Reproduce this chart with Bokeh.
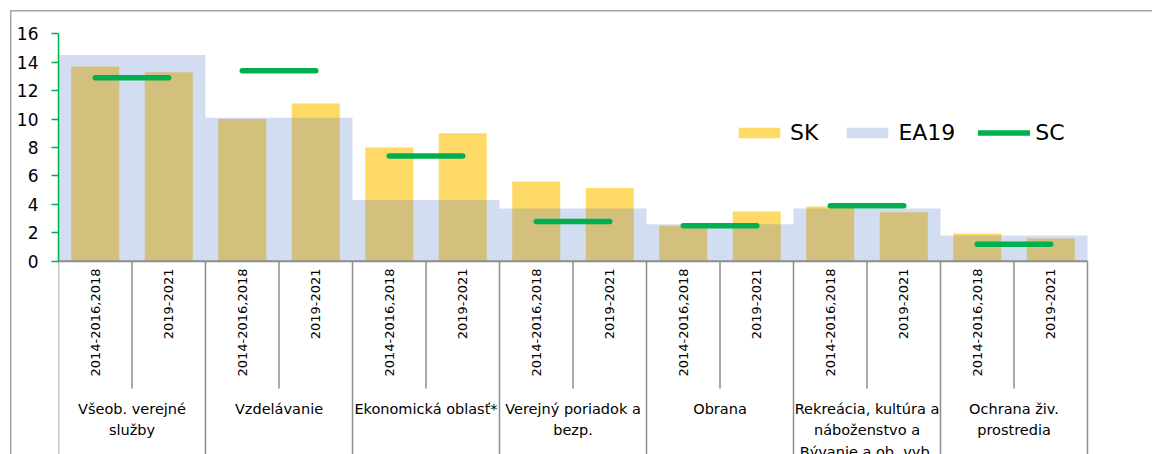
import math
from bokeh.plotting import figure
from bokeh.models import (Range1d, FixedTicker, Legend, LegendItem, ColumnDataSource)
from bokeh.core.properties import value
from bokeh.embed import file_html
from bokeh.resources import INLINE

# Expenditure by function, % of total: Slovakia (SK) vs euro area (EA19), with SC marks
groups = ["Všeob. verejné\nslužby", "Vzdelávanie", "Ekonomická oblasť*",
          "Verejný poriadok a\nbezp.", "Obrana",
          "Rekreácia, kultúra a\nnáboženstvo a\nBývanie a ob. vyb.",
          "Ochrana živ.\nprostredia"]
periods = ["2014-2016,2018", "2019-2021"]
sk_first = [13.7, 10.0, 8.0, 5.6, 2.5, 3.85, 1.95]
sk_second = [13.3, 11.1, 9.0, 5.15, 3.5, 3.45, 1.6]
ea19 = [14.5, 10.1, 4.3, 3.7, 2.6, 3.7, 1.8]
sc = [12.9, 13.4, 7.4, 2.8, 2.5, 3.9, 1.2]
y_ticks = [0, 2, 4, 6, 8, 10, 12, 14, 16]

FONT = "DejaVu Sans"
YELLOW = "#FFD966"
BLUE = "#4472C4"
GREEN = "#00B050"
GRAY = "#8c8c8c"
FRAME_GRAY = "#a6a6a6"

n_groups = len(groups)
n_slots = n_groups * len(periods)

# pixel geometry of the plotting area
W, H = 1152, 454
LEFT = 58
PX_PER_SLOT = 73.5
Y0_PX = 260.7
PX_PER_UNIT = 14.2125

x_max = (W - LEFT) / PX_PER_SLOT
y_top = Y0_PX / PX_PER_UNIT
y_bot = -(H - Y0_PX) / PX_PER_UNIT


def px_to_y(py):
    return (Y0_PX - py) / PX_PER_UNIT


p = figure(width=W, height=H, output_backend="svg", toolbar_location=None,
           x_range=Range1d(0, x_max), y_range=Range1d(y_bot, y_top),
           x_axis_location=None, min_border_left=LEFT, min_border_right=0,
           min_border_top=0, min_border_bottom=0)
p.grid.visible = False
p.outline_line_color = None
# transparent canvas so the chart-area border painted behind it shows through
p.background_fill_color = None
p.border_fill_color = None
p.styles = {
    "background": (
        f"linear-gradient({FRAME_GRAY}, {FRAME_GRAY}) 10px 10px / 1.5px {H}px no-repeat, "
        f"linear-gradient({FRAME_GRAY}, {FRAME_GRAY}) 10px 10px / {W}px 1.5px no-repeat, "
        "white"
    )
}

# y axis
ya = p.yaxis[0]
ya.bounds = (0, 16)
ya.ticker = FixedTicker(ticks=y_ticks)
ya.minor_tick_line_color = None
ya.axis_line_color = GREEN
ya.axis_line_width = 1.5
ya.major_tick_line_color = GREEN
ya.major_tick_line_width = 1.5
ya.major_tick_in = 0
ya.major_tick_out = 7
ya.major_label_standoff = 13
ya.major_label_text_font = FONT
ya.major_label_text_font_size = "17px"
ya.major_label_text_color = "black"

# bars
slot_x = [i + 0.5 for i in range(n_slots)]
sk_vals = []
for a, b in zip(sk_first, sk_second):
    sk_vals += [a, b]
group_x = [2 * g + 1 for g in range(n_groups)]

sk_src = ColumnDataSource(dict(x=slot_x, top=sk_vals))
ea_src = ColumnDataSource(dict(x=group_x, top=ea19))
sk_r = p.vbar(x="x", top="top", bottom=0, width=48 / PX_PER_SLOT, source=sk_src,
              fill_color=YELLOW, line_color=None)
ea_r = p.vbar(x="x", top="top", bottom=0, width=2, source=ea_src,
              fill_color=BLUE, fill_alpha=0.24, line_color=None)

sc_src = ColumnDataSource(dict(x0=[2 * g + 0.5 for g in range(n_groups)],
                               x1=[2 * g + 1.5 for g in range(n_groups)],
                               y=sc))
sc_r = p.segment(x0="x0", y0="y", x1="x1", y1="y", source=sc_src,
                 line_color=GREEN, line_width=5.5, line_cap="round")

# category axis drawn as a two-level table below the bars
p.segment(x0=[0], y0=[0], x1=[n_slots], y1=[0], line_color=GRAY, line_width=2)
short_x = [2 * g + 1 for g in range(n_groups)]
long_x = [2 * g for g in range(n_groups + 1)]
p.segment(x0=short_x, y0=[0] * len(short_x), x1=short_x,
          y1=[px_to_y(388)] * len(short_x), line_color=GRAY, line_width=1.5)
p.segment(x0=long_x, y0=[0] * len(long_x), x1=long_x,
          y1=[y_bot] * len(long_x), line_color=GRAY, line_width=1.5)

p.text(x=slot_x, y=[px_to_y(268)] * n_slots, text=periods * n_groups,
       angle=math.pi / 2, text_align="right", text_baseline="middle",
       text_font=value(FONT), text_font_size="13px", text_color="black")
p.text(x=group_x, y=[px_to_y(400)] * n_groups, text=groups,
       text_align="center", text_baseline="top", text_line_height=1.36,
       text_font=value(FONT), text_font_size="14.5px", text_color="black")

legend = Legend(items=[LegendItem(label="SK", renderers=[sk_r]),
                       LegendItem(label="EA19", renderers=[ea_r]),
                       LegendItem(label="SC", renderers=[sc_r])],
                orientation="horizontal", location=(733 - LEFT, H - 144.5),
                glyph_width=52, glyph_height=13, label_height=13,
                label_standoff=5, spacing=23, padding=0, margin=0,
                border_line_alpha=0, background_fill_alpha=0,
                label_text_font=FONT, label_text_font_size="22px",
                label_text_color="black")
p.add_layout(legend)

open("out.html", "w").write(file_html(p, INLINE))
